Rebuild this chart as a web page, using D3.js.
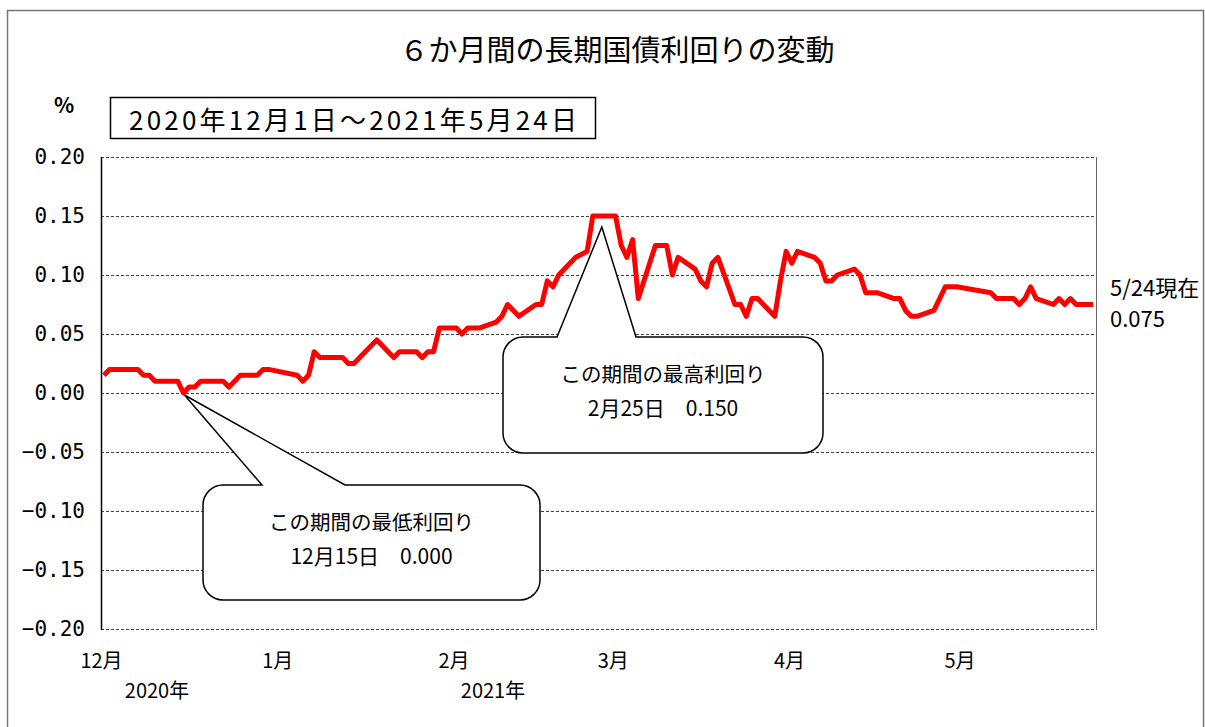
<!DOCTYPE html>
<html>
<head>
<meta charset="utf-8">
<script src="https://cdn.jsdelivr.net/npm/d3@7"></script>
<style>
  body { margin: 0; background: #fff; }
  svg text { font-family: "Noto Sans CJK JP", sans-serif; fill: #000; }
</style>
</head>
<body>
<svg id="chart" width="1205" height="727"></svg>
<script>
// business days, 2020/12/1 - 2021/5/24
var dates = [
  "2020-12-01","2020-12-02","2020-12-03","2020-12-04","2020-12-07","2020-12-08","2020-12-09","2020-12-10",
  "2020-12-11","2020-12-14","2020-12-15","2020-12-16","2020-12-17","2020-12-18","2020-12-21","2020-12-22",
  "2020-12-23","2020-12-24","2020-12-25","2020-12-28","2020-12-29","2020-12-30",
  "2021-01-04","2021-01-05","2021-01-06","2021-01-07","2021-01-08","2021-01-12","2021-01-13","2021-01-14",
  "2021-01-15","2021-01-18","2021-01-19","2021-01-20","2021-01-21","2021-01-22","2021-01-25","2021-01-26",
  "2021-01-27","2021-01-28","2021-01-29",
  "2021-02-01","2021-02-02","2021-02-03","2021-02-04","2021-02-05","2021-02-08","2021-02-09","2021-02-10",
  "2021-02-12","2021-02-15","2021-02-16","2021-02-17","2021-02-18","2021-02-19","2021-02-22","2021-02-24",
  "2021-02-25","2021-02-26",
  "2021-03-01","2021-03-02","2021-03-03","2021-03-04","2021-03-05","2021-03-08","2021-03-09","2021-03-10",
  "2021-03-11","2021-03-12","2021-03-15","2021-03-16","2021-03-17","2021-03-18","2021-03-19","2021-03-22",
  "2021-03-23","2021-03-24","2021-03-25","2021-03-26","2021-03-29","2021-03-30","2021-03-31",
  "2021-04-01","2021-04-02","2021-04-05","2021-04-06","2021-04-07","2021-04-08","2021-04-09","2021-04-12",
  "2021-04-13","2021-04-14","2021-04-15","2021-04-16","2021-04-19","2021-04-20","2021-04-21","2021-04-22",
  "2021-04-23","2021-04-26","2021-04-27","2021-04-28","2021-04-30",
  "2021-05-06","2021-05-07","2021-05-10","2021-05-11","2021-05-12","2021-05-13","2021-05-14","2021-05-17",
  "2021-05-18","2021-05-19","2021-05-20","2021-05-21","2021-05-24"
];
var yields = [
  0.015,0.020,0.020,0.020,0.020,0.015,0.015,0.010,
  0.010,0.010,0.000,0.005,0.005,0.010,0.010,0.010,
  0.005,0.010,0.015,0.015,0.020,0.020,
  0.015,0.010,0.015,0.035,0.030,0.030,0.025,0.025,
  0.030,0.045,0.040,0.035,0.030,0.035,0.035,0.030,
  0.035,0.035,0.055,
  0.055,0.050,0.055,0.055,0.055,0.060,0.065,0.075,
  0.065,0.075,0.075,0.095,0.090,0.100,0.115,0.120,
  0.150,0.150,
  0.150,0.125,0.115,0.130,0.080,0.125,0.125,0.125,
  0.100,0.115,0.105,0.095,0.090,0.110,0.115,0.075,
  0.075,0.065,0.080,0.080,0.065,0.095,0.120,
  0.110,0.120,0.115,0.110,0.095,0.095,0.100,0.105,
  0.100,0.085,0.085,0.085,0.080,0.080,0.070,0.065,
  0.065,0.070,0.080,0.090,0.090,
  0.085,0.080,0.080,0.075,0.080,0.090,0.080,0.075,
  0.080,0.075,0.080,0.075,0.075
];
var yTicks = [0.20, 0.15, 0.10, 0.05, 0.00, -0.05, -0.10, -0.15, -0.20];
var yearLabels = ["2020年", "2021年"];
var yearLabelX = [157, 493];

var title = "６か月間の長期国債利回りの変動";
var periodText = "2020年12月1日～2021年5月24日";

var parse = d3.timeParse("%Y-%m-%d");
var data = dates.map(function(d, i) { return {date: parse(d), value: yields[i]}; });

// plot area
var plotL = 101, plotR = 1096, plotT = 157, plotB = 629;

var svg = d3.select("#chart");

// outer frame
svg.append("rect")
  .attr("x", 7.5).attr("y", 10.5)
  .attr("width", 1196).attr("height", 730)
  .attr("fill", "none").attr("stroke", "#777").attr("stroke-width", 1.5);

var x = d3.scaleTime()
  .domain([new Date(2020, 11, 1), new Date(2021, 4, 25)])
  .range([plotL, plotR]);
var y = d3.scaleLinear()
  .domain([-0.2, 0.2])
  .range([plotB, plotT]);

// points sit in the middle of their day
function px(d) { return x(d3.timeHour.offset(d.date, 12)); }
function py(d) { return y(d.value); }

// grid lines
svg.append("g")
  .selectAll("line")
  .data(yTicks)
  .join("line")
    .attr("x1", plotL).attr("x2", plotR)
    .attr("y1", function(d) { return y(d) + 0.5; })
    .attr("y2", function(d) { return y(d) + 0.5; })
    .attr("stroke", "#444")
    .attr("stroke-width", 1)
    .attr("stroke-dasharray", "3,2");

// y axis labels
var yAxis = svg.append("g")
  .attr("transform", "translate(" + plotL + ",0)")
  .call(d3.axisLeft(y).tickValues(yTicks).tickFormat(d3.format(".2f")).tickSize(0).tickPadding(16));
yAxis.select(".domain").remove();
yAxis.selectAll("text")
  .style("font-family", "'DejaVu Sans Mono', monospace")
  .style("font-size", "21px");

// x axis labels
var xAxis = svg.append("g")
  .attr("transform", "translate(0," + plotB + ")")
  .call(d3.axisBottom(x).ticks(d3.timeMonth.every(1))
    .tickFormat(function(d) { return (d.getMonth() + 1) + "月"; })
    .tickSize(0).tickPadding(25));
xAxis.select(".domain").remove();
xAxis.selectAll("text").style("font-size", "20px");

svg.selectAll(".yearLabel")
  .data(yearLabels)
  .join("text")
    .attr("class", "yearLabel")
    .attr("x", function(d, i) { return yearLabelX[i]; })
    .attr("y", 698)
    .attr("text-anchor", "middle")
    .style("font-size", "20px")
    .text(function(d) { return d; });

// left axis line and right border
svg.append("line")
  .attr("x1", plotL + 0.5).attr("x2", plotL + 0.5)
  .attr("y1", plotT).attr("y2", plotB + 1)
  .attr("stroke", "#000").attr("stroke-width", 1.5);
svg.append("line")
  .attr("x1", plotR + 0.5).attr("x2", plotR + 0.5)
  .attr("y1", plotT).attr("y2", plotB + 1)
  .attr("stroke", "#666").attr("stroke-width", 1);

// title, unit, period box
svg.append("text")
  .attr("x", 617).attr("y", 61)
  .attr("text-anchor", "middle")
  .style("font-size", "29px")
  .text(title);
svg.append("text")
  .attr("x", 64).attr("y", 113)
  .attr("text-anchor", "middle")
  .style("font-size", "21px").style("font-weight", "bold")
  .text("%");
svg.append("rect")
  .attr("x", 110.5).attr("y", 97.5)
  .attr("width", 485).attr("height", 41)
  .attr("fill", "#fff").attr("stroke", "#000").attr("stroke-width", 1.5);
svg.append("text")
  .attr("x", 353).attr("y", 130)
  .attr("text-anchor", "middle")
  .attr("textLength", 448)
  .style("font-size", "26px")
  .text(periodText);

// callout: rounded box with a wedge pointing at a point
function callout(b, tip) {
  var r = 20;
  return "M" + (b.x0 + r) + "," + b.y0 +
    "L" + b.baseL + "," + b.y0 +
    "L" + tip[0] + "," + tip[1] +
    "L" + b.baseR + "," + b.y0 +
    "L" + (b.x1 - r) + "," + b.y0 +
    "A" + r + "," + r + " 0 0 1 " + b.x1 + "," + (b.y0 + r) +
    "L" + b.x1 + "," + (b.y1 - r) +
    "A" + r + "," + r + " 0 0 1 " + (b.x1 - r) + "," + b.y1 +
    "L" + (b.x0 + r) + "," + b.y1 +
    "A" + r + "," + r + " 0 0 1 " + b.x0 + "," + (b.y1 - r) +
    "L" + b.x0 + "," + (b.y0 + r) +
    "A" + r + "," + r + " 0 0 1 " + (b.x0 + r) + "," + b.y0 + "Z";
}

var lowPt = d3.least(data, function(d) { return d.value; });
var highPt = d3.greatest(data, function(d) { return d.value; });
var fmtDay = d3.timeFormat("%-m月%-d日");
var fmtVal = d3.format(".3f");

var notes = [
  {pt: lowPt, box: {x0: 203, y0: 485, x1: 540, y1: 600, baseL: 262, baseR: 345}, off: [1, 2],
   label: "この期間の最低利回り"},
  {pt: highPt, box: {x0: 503, y0: 337, x1: 823, y1: 453, baseL: 557, baseR: 636}, off: [9, 11],
   label: "この期間の最高利回り"}
];

notes.forEach(function(n) {
  var tip = [px(n.pt) + n.off[0], py(n.pt) + n.off[1]];
  svg.append("path")
    .attr("d", callout(n.box, tip))
    .attr("fill", "#fff")
    .attr("stroke", "#000")
    .attr("stroke-width", 1.5);
  var cx = (n.box.x0 + n.box.x1) / 2;
  svg.append("text")
    .attr("x", cx).attr("y", n.box.y0 + 45)
    .attr("text-anchor", "middle")
    .style("font-size", "20.5px")
    .text(n.label);
  svg.append("text")
    .attr("x", cx).attr("y", n.box.y0 + 79)
    .attr("text-anchor", "middle")
    .style("font-size", "21px")
    .text(fmtDay(n.pt.date) + "　" + fmtVal(n.pt.value));
});

// the yield line
var line = d3.line().x(px).y(py);
svg.append("path")
  .datum(data)
  .attr("d", line)
  .attr("fill", "none")
  .attr("stroke", "#ff0000")
  .attr("stroke-width", 5)
  .attr("stroke-linejoin", "round");

// latest value
var last = data[data.length - 1];
svg.append("text")
  .attr("x", 1110).attr("y", 296)
  .style("font-size", "22px")
  .text(d3.timeFormat("%-m/%-d")(last.date) + "現在");
svg.append("text")
  .attr("x", 1110).attr("y", 327)
  .style("font-size", "22px")
  .text(fmtVal(last.value));
</script>
</body>
</html>
